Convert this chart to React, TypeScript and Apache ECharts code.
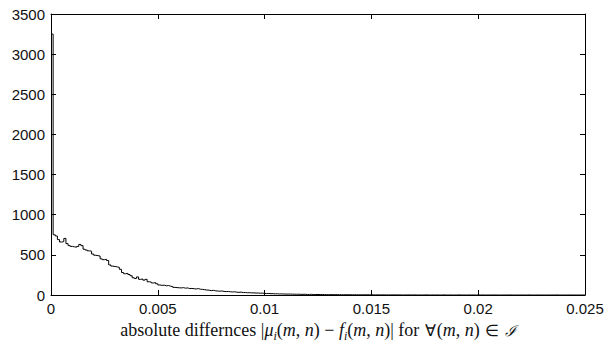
import React, { useEffect, useRef } from "react";
import * as echarts from "echarts";

// histogram bin width and counts (bins start at 0)
const binWidth = 0.0001;
const countsA = [
  3250, 750, 735, 690, 660, 665, 705, 640, 615, 605,
  600, 595, 605, 630, 615, 570, 560, 550, 545, 510,
  495, 490, 485, 450, 440, 445, 430, 375, 360, 355,
  350, 345, 320, 280, 265, 270, 255, 240, 215, 205,
  225, 195, 200, 185, 195, 165, 160, 150, 155, 140,
];
const countsB = [
  125, 120, 122, 115, 118, 110, 105, 95, 92, 90,
  88, 92, 85, 88, 80, 82, 78, 75, 80, 72,
  70, 66, 62, 60, 55, 58, 52, 50, 47, 50,
  45, 42, 44, 40, 38, 40, 35, 33, 36, 30,
  31, 28, 29, 26, 27, 24, 25, 22, 23, 20,
];
const countsC = [
  18, 19, 16, 17, 14, 15, 13, 14, 12, 12,
  11, 12, 10, 10, 9, 10, 8, 8, 9, 7,
  7, 8, 6, 6, 7, 5, 6, 5, 5, 4,
  5, 4, 4, 5, 3, 4, 3, 4, 3, 3,
  2, 3, 3, 2, 3, 2, 2, 3, 2, 2,
];
const countsD = [
  2, 1, 2, 1, 1, 2, 1, 1, 1, 2,
  1, 1, 1, 1, 0, 1, 1, 1, 0, 1,
  1, 0, 1, 0, 1, 1, 0, 0, 1, 0,
  1, 0, 0, 1, 0, 0, 1, 0, 0, 0,
  1, 0, 0, 0, 0, 1, 0, 0, 0, 0,
  0, 1, 0, 0, 0, 0, 0, 1, 0, 0,
  0, 0, 0, 0, 1, 0, 0, 0, 0, 0,
  0, 0, 0, 1, 0, 0, 0, 0, 0, 0,
  0, 0, 0, 0, 0, 0, 1, 0, 0, 0,
  0, 0, 0, 0, 0, 0, 0, 0, 0, 0,
];
const xTicks = [0, 0.005, 0.01, 0.015, 0.02, 0.025];
const yTicks = [0, 500, 1000, 1500, 2000, 2500, 3000, 3500];
const xTitle =
  "{r|absolute differnces |}{i|μ}{s|i}{r|(}{i|m}{r|, }{i|n}{r|) − }{i|f}{s|i}{r|(}{i|m}{r|, }{i|n}{r|)| for }{o|∀}{r|(}{i|m}{r|, }{i|n}{r|) }{o|∈}{r| }{c|ℐ}";

export default function App() {
  const ref = useRef<HTMLDivElement>(null);
  useEffect(() => {
    if (!ref.current) return;
    const chart = echarts.init(ref.current, undefined, { renderer: "svg" });
    const counts = [...countsA, ...countsB, ...countsC, ...countsD];
    const data: [number, number][] = counts.map((c, i) => [i * binWidth, c]);
    data.push([counts.length * binWidth, counts[counts.length - 1]]);
    const xMin = xTicks[0];
    const xMax = xTicks[xTicks.length - 1];
    const xInt = xTicks[1] - xTicks[0];
    const yMin = yTicks[0];
    const yMax = yTicks[yTicks.length - 1];
    const yInt = yTicks[1] - yTicks[0];
    const labelFont = { fontFamily: "Liberation Sans", fontSize: 15, color: "#111" };
    const axisLine = { show: true, onZero: false, lineStyle: { color: "#000", width: 1 } };
    const tick = { show: true, inside: false, length: -5, lineStyle: { color: "#000", width: 1 } };
    const serif = "Liberation Serif";
    const fs = 18;
    chart.setOption({
      animation: false,
      backgroundColor: "#fff",
      grid: { left: 51, right: 23, top: 14, bottom: 50, containLabel: false, outerBoundsMode: "none" },
      xAxis: [
        {
          type: "value",
          position: "bottom",
          min: xMin,
          max: xMax,
          interval: xInt,
          axisLine,
          axisTick: tick,
          splitLine: { show: false },
          axisLabel: {
            ...labelFont,
            margin: 6,
            formatter: (v: number) => String(parseFloat(v.toFixed(4))),
          },
          name: xTitle,
          nameLocation: "middle",
          nameGap: 23,
          nameTextStyle: {
            fontFamily: serif,
            fontSize: fs,
            color: "#111",
            rich: {
              r: { fontFamily: serif, fontSize: fs, color: "#111", lineHeight: 20, verticalAlign: "bottom" },
              i: { fontFamily: serif, fontSize: fs, fontStyle: "italic", color: "#111", lineHeight: 20, verticalAlign: "bottom" },
              o: { fontFamily: serif, fontSize: 16, color: "#111", lineHeight: 20, verticalAlign: "bottom", padding: [0, 1, 0, 1] },
              c: { fontFamily: "DejaVu Serif", fontSize: 15, fontStyle: "italic", color: "#111", lineHeight: 20, verticalAlign: "bottom" },
              s: { fontFamily: serif, fontSize: 12, fontStyle: "italic", color: "#111", lineHeight: 20, verticalAlign: "bottom", padding: [0, 0, -3, 0] },
            },
          },
        },
        {
          type: "value",
          position: "top",
          min: xMin,
          max: xMax,
          interval: xInt,
          axisLine,
          axisTick: tick,
          axisLabel: { show: false },
          splitLine: { show: false },
        },
      ],
      yAxis: [
        {
          type: "value",
          position: "left",
          min: yMin,
          max: yMax,
          interval: yInt,
          axisLine,
          axisTick: tick,
          splitLine: { show: false },
          axisLabel: { ...labelFont, margin: 6, formatter: (v: number) => String(v) },
        },
        {
          type: "value",
          position: "right",
          min: yMin,
          max: yMax,
          interval: yInt,
          axisLine,
          axisTick: tick,
          axisLabel: { show: false },
          splitLine: { show: false },
        },
      ],
      series: [
        {
          type: "line",
          step: "end",
          data,
          showSymbol: false,
          symbol: "none",
          lineStyle: { color: "#000", width: 1 },
          xAxisIndex: 0,
          yAxisIndex: 0,
        },
      ],
    });
    return () => chart.dispose();
  }, []);
  return (
    <div
      ref={ref}
      style={{ position: "fixed", left: 0, top: 0, width: 608, height: 345, background: "#fff" }}
    />
  );
}
